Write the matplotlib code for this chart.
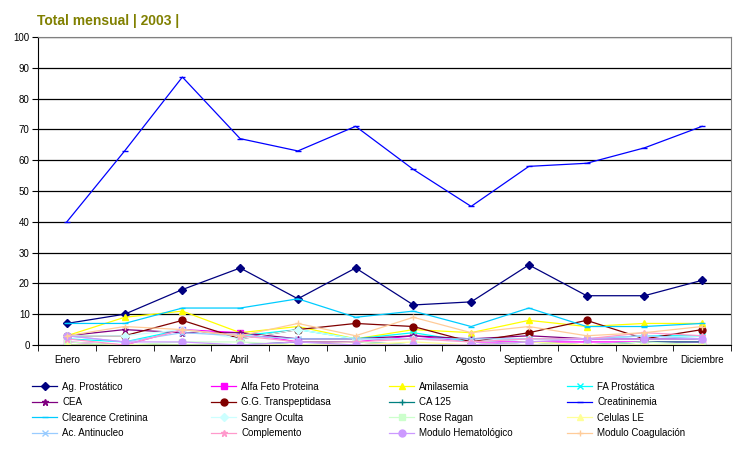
import matplotlib
matplotlib.use("Agg")
import matplotlib.pyplot as plt
import numpy as np

plt.rcParams['font.family'] = ['Liberation Sans', 'DejaVu Sans']

# ---------------------------------------------------------
# Data
# ---------------------------------------------------------
months = ['Enero', 'Febrero', 'Marzo', 'Abril', 'Mayo', 'Junio', 'Julio',
          'Agosto', 'Septiembre', 'Octubre', 'Noviembre', 'Diciembre']

ag_prostatico = [7, 10, 18, 25, 15, 25, 13, 14, 26, 16, 16, 21]
alfa_feto = [1, 0, 5, 4, 1, 1, 3, 1, 1, 1, 1, 1]
amilasemia = [3, 9, 11, 4, 6, 2, 5, 4, 8, 6, 7, 7]
fa_prostatica = [2, 1, 5, 3, 5, 2, 4, 1, 2, 2, 3, 3]
cea = [3, 5, 4, 4, 2, 2, 3, 2, 3, 2, 2, 2]
gg_transpep = [3, 3, 8, 2, 5, 7, 6, 1, 4, 8, 2, 5]
ca_125 = [0, 0, 0, 0, 1, 1, 0, 0, 1, 0, 1, 1]
creatininemia = [40, 63, 87, 67, 63, 71, 57, 45, 58, 59, 64, 71]
clearence = [7, 7, 12, 12, 15, 9, 11, 6, 12, 6, 6, 7]
sangre_oculta = [3, 3, 5, 2, 5, 2, 2, 1, 2, 2, 3, 2]
rose_ragan = [1, 0, 1, 1, 0, 1, 0, 0, 1, 0, 1, 0]
celulas_le = [0, 0, 0, 0, 0, 0, 1, 0, 1, 0, 0, 0]
ac_antinucleo = [3, 1, 4, 3, 2, 2, 2, 2, 2, 2, 3, 2]
complemento = [2, 0, 5, 3, 1, 1, 2, 1, 2, 2, 4, 3]
mod_hemato = [3, 1, 1, 0, 1, 0, 0, 0, 1, 2, 2, 2]
mod_coag = [3, 6, 5, 3, 7, 3, 9, 4, 6, 3, 4, 6]

# (label, values, color, marker, markersize)
series = [
    ('Ag. Prostático', ag_prostatico, '#000080', 'D', 4.5),
    ('Alfa Feto Proteina', alfa_feto, '#FF00FF', 's', 4.5),
    ('Amilasemia', amilasemia, '#FFFF00', '^', 5),
    ('FA Prostática', fa_prostatica, '#00FFFF', 'x', 4),
    ('CEA', cea, '#800080', '*', 5),
    ('G.G. Transpeptidasa', gg_transpep, '#800000', 'o', 5),
    ('CA 125', ca_125, '#008080', '+', 5),
    ('Creatininemia', creatininemia, '#0000FF', '_', 5),
    ('Clearence Cretinina', clearence, '#00CCFF', '_', 5),
    ('Sangre Oculta', sangre_oculta, '#CCFFFF', 'D', 4.5),
    ('Rose Ragan', rose_ragan, '#CCFFCC', 's', 4.5),
    ('Celulas LE', celulas_le, '#FFFF99', '^', 5),
    ('Ac. Antinucleo', ac_antinucleo, '#99CCFF', 'x', 4),
    ('Complemento', complemento, '#FF99CC', '*', 5),
    ('Modulo Hematológico', mod_hemato, '#CC99FF', 'o', 5),
    ('Modulo Coagulación', mod_coag, '#FFCC99', '+', 5),
]

# ---------------------------------------------------------
# Plot
# ---------------------------------------------------------
fig = plt.figure(figsize=(7.46, 4.5), dpi=100)
ax = fig.add_axes([38 / 746, 105 / 450, 693 / 746, 308 / 450])

x = np.arange(len(months))
handles = []
for label, vals, color, marker, ms in series:
    h, = ax.plot(x, vals, color=color, lw=0.9, marker=marker, ms=ms,
                 mec=color, mfc=color, mew=1.0, label=label)
    handles.append(h)

ax.set_xlim(-0.5, len(months) - 0.5)
ax.set_ylim(0, 100)
ax.set_yticks(range(0, 101, 10))
ax.yaxis.grid(True, color='black', lw=0.9)
ax.set_axisbelow(True)

ax.set_xticks(x)
ax.set_xticklabels(months, fontsize=7)
ax.set_xticks(np.arange(-0.5, len(months), 1), minor=True)
ax.tick_params(axis='x', which='major', length=0, pad=7)
ax.tick_params(axis='x', which='minor', length=4, direction='out', color='black')
ax.tick_params(axis='y', length=4, direction='out', labelsize=7, pad=2)

for side in ['top', 'right']:
    ax.spines[side].set_color('#808080')
for side in ['left', 'bottom']:
    ax.spines[side].set_color('black')

fig.text(37 / 746, 1 - 21 / 450, 'Total mensual | 2003 |', color='#808000',
         fontsize=10, fontweight='bold', va='center', ha='left')

# legend: 4 columns, filled row-wise, one legend per column
ncol = 4
col_x = [28, 207, 385, 563]
for c in range(ncol):
    idx = list(range(c, len(series), ncol))
    leg = fig.legend([handles[i] for i in idx], [series[i][0] for i in idx],
                     loc='upper left', bbox_to_anchor=(col_x[c] / 746, 1 - 378 / 450),
                     fontsize=7, frameon=False, handlelength=2.6,
                     handletextpad=0.5, labelspacing=0.55, borderaxespad=0)

fig.savefig('out.png', dpi=100)
